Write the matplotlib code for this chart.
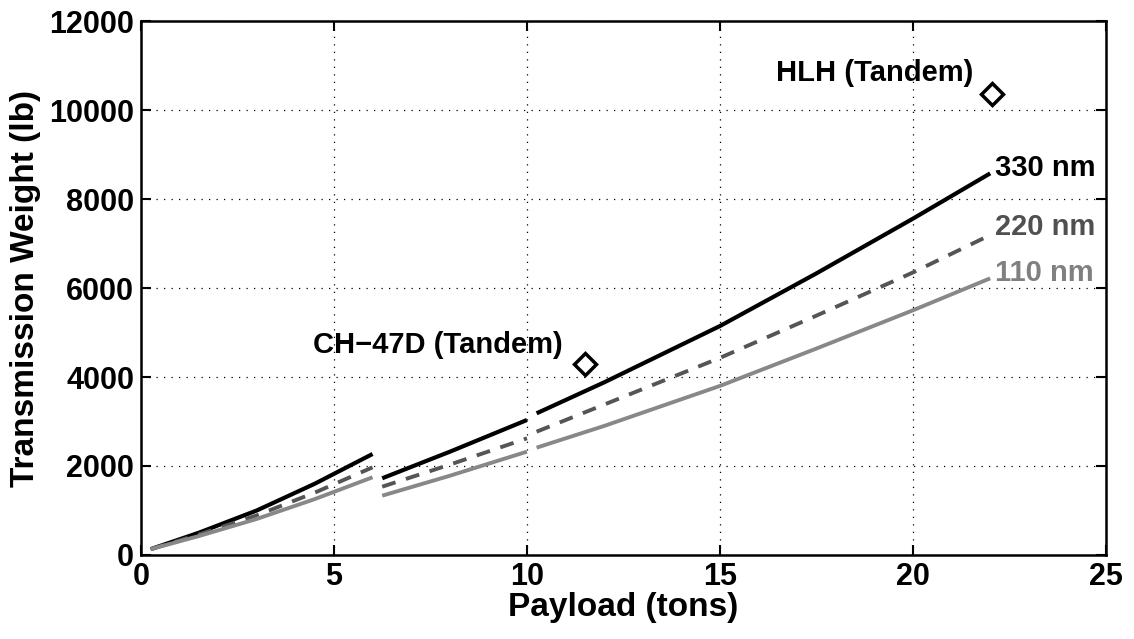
import matplotlib
matplotlib.use('Agg')
import matplotlib.pyplot as plt

plt.rcParams['font.family'] = ['Liberation Sans', 'DejaVu Sans']
plt.rcParams['font.weight'] = 'bold'

# Payload (tons) for the three design segments
x_seg1 = [0.25, 1.5, 3.0, 4.5, 6.0]
x_seg2 = [6.25, 8.0, 10.0]
x_seg3 = [10.25, 12.0, 15.0, 17.5, 20.0, 22.0]

# Transmission weight (lb)
w330_seg1 = [130, 500, 1000, 1600, 2270]
w330_seg2 = [1724, 2320, 3034]
w330_seg3 = [3184, 3880, 5146, 6330, 7560, 8577]

w220_seg1 = [130, 460, 890, 1400, 1970]
w220_seg2 = [1535, 2030, 2622]
w220_seg3 = [2771, 3380, 4430, 5380, 6350, 7191]

w110_seg1 = [130, 425, 810, 1255, 1746]
w110_seg2 = [1333, 1780, 2322]
w110_seg3 = [2412, 2900, 3800, 4640, 5500, 6218]

# existing aircraft
ac_names = ['CH\u221247D (Tandem)', 'HLH (Tandem)']
ac_payload = [11.5, 22.05]
ac_weight = [4300, 10350]

fig = plt.figure(figsize=(11.34, 6.39), dpi=100)
ax = fig.add_axes([0.1243, 0.1315, 0.8510, 0.8355])

dash = (0, (3.6, 2.8))
for xs, ys in zip([x_seg1, x_seg2, x_seg3], [w330_seg1, w330_seg2, w330_seg3]):
    ax.plot(xs, ys, color='black', linewidth=3.0, solid_capstyle='butt')
for xs, ys in zip([x_seg1, x_seg2, x_seg3], [w220_seg1, w220_seg2, w220_seg3]):
    ax.plot(xs, ys, color='#555555', linewidth=2.8, linestyle=dash, dash_capstyle='butt')
for xs, ys in zip([x_seg1, x_seg2, x_seg3], [w110_seg1, w110_seg2, w110_seg3]):
    ax.plot(xs, ys, color='#888888', linewidth=2.8, solid_capstyle='butt')

ax.plot(ac_payload, ac_weight, linestyle='none', marker='D', markersize=11,
        markerfacecolor='white', markeredgecolor='black', markeredgewidth=2.5)

# annotations
ax.text(4.46, 4540, ac_names[0], fontsize=21, fontweight='bold', ha='left', va='baseline')
ax.text(16.45, 10650, ac_names[1], fontsize=21, fontweight='bold', ha='left', va='baseline')
ax.text(22.12, 8700, '330 nm', fontsize=21, fontweight='bold', color='black', va='center')
ax.text(22.12, 7370, '220 nm', fontsize=21, fontweight='bold', color='#505050', va='center')
ax.text(22.12, 6340, '110 nm', fontsize=21, fontweight='bold', color='#808080', va='center')

ax.set_xlim(0, 25)
ax.set_ylim(0, 12000)
ax.set_xticks([0, 5, 10, 15, 20, 25])
ax.set_yticks([0, 2000, 4000, 6000, 8000, 10000, 12000])
ax.grid(True, color='black', linewidth=0.9, linestyle=(0, (1, 5)))
ax.tick_params(direction='in', length=7, width=1.5, labelsize=22, top=True, right=True, pad=5)
for lab in ax.get_xticklabels() + ax.get_yticklabels():
    lab.set_fontweight('bold')
for s in ax.spines.values():
    s.set_linewidth(1.8)

ax.set_xlabel('Payload (tons)', fontsize=24, fontweight='bold', labelpad=0)
ax.set_ylabel('Transmission Weight (lb)', fontsize=24, fontweight='bold', labelpad=6)

fig.savefig('out.png', dpi=100)
